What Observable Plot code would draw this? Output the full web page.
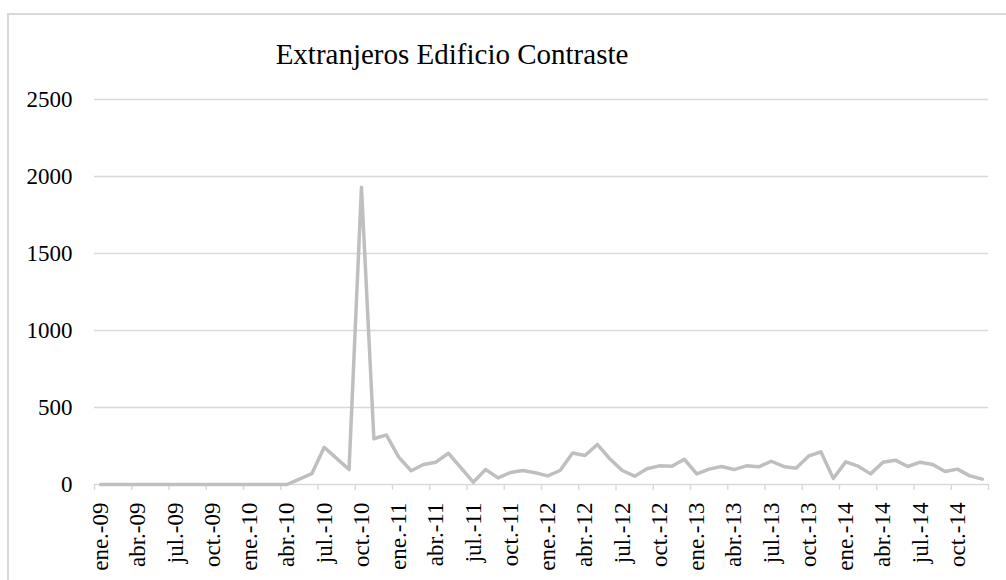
<!DOCTYPE html>
<html>
<head>
<meta charset="utf-8">
<script src="https://cdn.jsdelivr.net/npm/d3@7"></script>
<script src="https://cdn.jsdelivr.net/npm/@observablehq/plot@0.6"></script>
<style>
  html, body { margin: 0; padding: 0; background: #fff; overflow: hidden; }
  #wrap { position: relative; width: 1006px; height: 580px; overflow: hidden; }
  .edge { position: absolute; background: #d9d9d9; }
  #edge-top { left: 7px; top: 13px; width: 999px; height: 1.5px; }
  #edge-left { left: 7px; top: 13px; width: 1.5px; height: 567px; }
  #title { position: absolute; left: 252px; width: 400px; top: 38px; text-align: center;
           font-family: "Liberation Serif", "Times New Roman", serif; font-size: 29px; color: #000; }
  #chart { position: absolute; left: 0; top: 0; }
</style>
</head>
<body>
<div id="wrap">
  <div class="edge" id="edge-top"></div>
  <div class="edge" id="edge-left"></div>
  <div id="chart"></div>
  <div id="title">Extranjeros Edificio Contraste</div>
</div>
<script>
// Monthly categories, January 2009 – December 2014
const monthNames = ["ene.", "feb.", "mar.", "abr.", "may.", "jun.", "jul.", "ago.", "sep.", "oct.", "nov.", "dic."];
const years = ["09", "10", "11", "12", "13", "14"];
const months = years.flatMap(y => monthNames.map(m => `${m}-${y}`));

// Foreign visitors per month
const extranjeros = [
  0, 0, 0, 0, 0, 0, 0, 0, 0, 0, 0, 0,
  0, 0, 0, 0, 35, 70, 242, 170, 97, 1930, 297, 322,
  178, 89, 130, 145, 203, 110, 15, 97, 43, 78, 91, 76,
  56, 91, 205, 188, 260, 167, 91, 54, 102, 121, 119, 164,
  69, 100, 117, 97, 121, 115, 151, 117, 106, 184, 212, 39,
  147, 119, 69, 145, 158, 117, 145, 130, 84, 100, 56, 35
];

const yTicks = [0, 500, 1000, 1500, 2000, 2500];

const data = months.map((m, i) => ({ i, month: m, value: extranjeros[i] }));

// Category boundaries every quarter, labels at the centre of each quarter's first month
const boundaries = d3.range(0, months.length + 1, 3);
const labelPositions = d3.range(0, months.length, 3).map(i => i + 0.5);

const grid = "#d9d9d9";
const serif = "'Liberation Serif', 'Times New Roman', serif";

const chart = Plot.plot({
  width: 1006,
  height: 580,
  marginLeft: 94,
  marginRight: 18,
  marginTop: 99,
  marginBottom: 96,
  style: { fontFamily: serif, color: "#000", background: "transparent", overflow: "visible" },
  x: { type: "linear", domain: [0, months.length], label: null },
  y: { domain: [0, 2500], label: null },
  marks: [
    Plot.gridY({ ticks: yTicks.filter(d => d > 0), stroke: grid, strokeOpacity: 1, strokeWidth: 1.4 }),
    Plot.ruleY([0], { stroke: grid, strokeWidth: 1.4 }),
    Plot.axisY({ ticks: yTicks, tickSize: 0, tickPadding: 22, fontSize: 23, tickFormat: d => String(d), label: null }),
    Plot.axisX({ ticks: boundaries, tickSize: 6, stroke: grid, strokeWidth: 1.4, tickFormat: () => "", label: null }),
    Plot.axisX({ ticks: labelPositions, tickSize: 0, tickPadding: 18, tickRotate: -90, fontSize: 23,
                 tickFormat: d => months[Math.floor(d)], label: null }),
    Plot.line(data, { x: d => d.i + 0.5, y: "value", stroke: "#bfbfbf", strokeWidth: 3.5,
                      strokeLinejoin: "round", strokeLinecap: "round" })
  ]
});

document.getElementById("chart").appendChild(chart);
</script>
</body>
</html>
